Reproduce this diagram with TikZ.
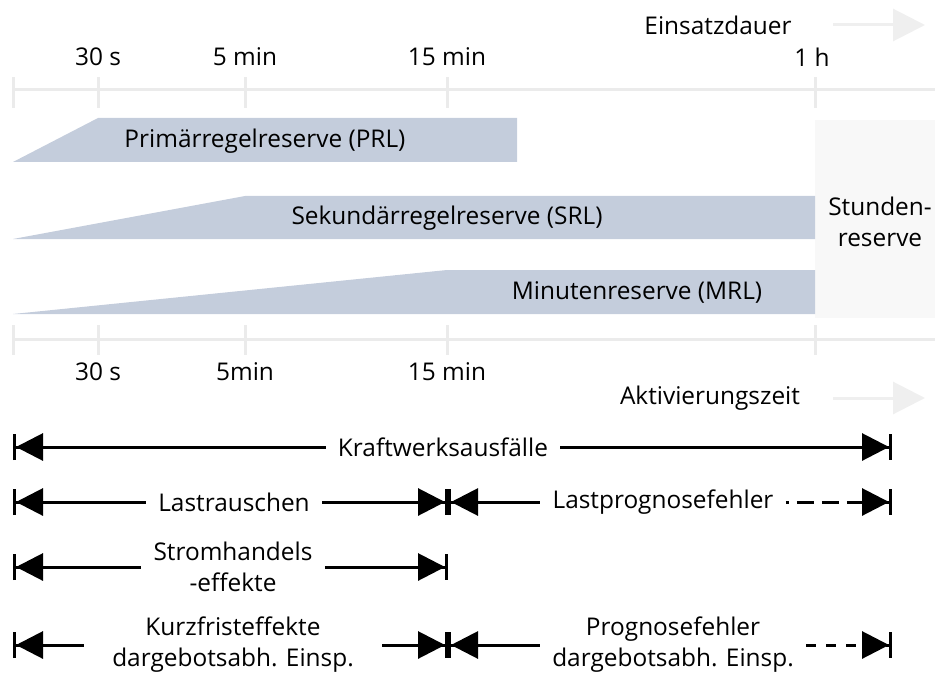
\documentclass[tikz,border=0pt]{standalone}
\usepackage{fontspec}
\setmainfont{Open Sans}
\usetikzlibrary{positioning, arrows.meta}
\definecolor{steel}{HTML}{C4CDDC}
\definecolor{fog}{HTML}{EBEBEB}
\definecolor{mist}{HTML}{F8F8F8}
\definecolor{ash}{HTML}{EFEFEF}
\tikzset{
  axln/.style={draw=fog, line width=1.5pt},
  hint/.style={draw=ash, line width=1.5pt, -{Triangle[length=16pt, width=16pt]}},
  txt/.style={inner sep=0pt, align=center},
  span/.style={inner xsep=6pt, inner ysep=0pt, align=center},
  dim/.style={line width=1.5pt, draw=black},
  dimL/.style={dim, {Bar[width=13pt]Triangle[length=13.5pt, width=13.5pt, sep=0pt]}-},
  dimR/.style={dim, -{Triangle[length=13.5pt, width=13.5pt, sep=0pt]Bar[width=13pt]}},
}
\begin{document}
\begin{tikzpicture}[x=0.5pt, y=-0.5pt, font=\fontsize{12.2}{15.5}\selectfont]
    \useasboundingbox (0,0) rectangle (935,679);
    % duration axis
    \node[txt] (einsatz) at (718,25) {Einsatzdauer};
    \coordinate (ea) at (833,25);
    \coordinate (eb) at (925,25);
    \draw[hint] (ea) -- (eb);
    \node[txt] (t30) at (98,57)  {30 s};
    \node[txt] (t5)  at (245,57) {5 min};
    \node[txt] (t15) at (447,57) {15 min};
    \node[txt] (t1h) at (812,57) {1 h};
    \draw[axln] (13,90) -- (935,90);
    \draw[axln] (13,77) -- (13,108) (98,77) -- (98,108) (245,77) -- (245,108)
                (447,77) -- (447,108) (815,77) -- (815,108);

    % reserve bands
    \fill[mist]  (815,120) rectangle (935,318);
    \fill[steel] (13,162) -- (98,118) -- (517,118) -- (517,162) -- cycle;
    \fill[steel] (13,239) -- (245,196) -- (815,196) -- (815,239) -- cycle;
    \fill[steel] (13,314) -- (447,270) -- (815,270) -- (815,314) -- cycle;
    \node[txt] (prl) at (265,141) {Primärregelreserve (PRL)};
    \node[txt] (srl) at (447,218) {Sekundärregelreserve (SRL)};
    \node[txt] (mrl) at (637,292) {Minutenreserve (MRL)};
    \node[txt] (std) at (880,222) {Stunden-\\reserve};

    % activation axis
    \draw[axln] (13,339) -- (935,339);
    \draw[axln] (13,325) -- (13,355) (98,325) -- (98,355) (245,325) -- (245,355)
                (447,325) -- (447,355) (815,325) -- (815,355);
    \node[txt] (b30) at (98,372)  {30 s};
    \node[txt] (b5)  at (245,372) {5min};
    \node[txt] (b15) at (447,372) {15 min};
    \node[txt] (akt) at (710,398) {Aktivierungszeit};
    \coordinate (aa) at (833,398);
    \coordinate (ab) at (925,398);
    \draw[hint] (aa) -- (ab);

    % causes
    \coordinate (x0)  at (13,447);
    \coordinate (x1)  at (892,447);
    \node[span] (kraft) at (443,447) {Kraftwerksausfälle};
    \draw[dimL] (x0) -- (kraft.west);
    \draw[dimR] (kraft.east) -- (x1);

    \coordinate (r0) at (13,502);
    \coordinate (r1) at (448,502);
    \coordinate (r2) at (892,502);
    \node[span] (rausch) at (234,502) {Lastrauschen};
    \node[span] (lpf) at (663,502) {Lastprognosefehler};
    \draw[dimL] (r0) -- (rausch.west);
    \draw[dimR] (rausch.east) -- (r1);
    \draw[dimL] (r1) -- (lpf.west);
    \draw[dimR, dash pattern=on 8.5pt off 4pt, dash phase=7pt] (lpf.east) -- (r2);

    \coordinate (s0) at (13,567);
    \coordinate (s1) at (448,567);
    \node[span] (handel) at (233,567) {Stromhandels\\-effekte};
    \draw[dimL] (s0) -- (handel.west);
    \draw[dimR] (handel.east) -- (s1);

    \coordinate (k0) at (13,645);
    \coordinate (k1) at (448,645);
    \coordinate (k2) at (892,645);
    \node[span, inner xsep=14pt] (kurz) at (233,645) {Kurzfristeffekte\\dargebotsabh. Einsp.};
    \node[span] (pf) at (673,645) {Prognosefehler\\dargebotsabh. Einsp.};
    \draw[dimL] (k0) -- (kurz.west);
    \draw[dimR] (kurz.east) -- (k1);
    \draw[dimL] (k1) -- (pf.west);
    \draw[dimR, dash pattern=on 5pt off 5pt] (pf.east) -- (k2);
  \end{tikzpicture}
\end{document}
